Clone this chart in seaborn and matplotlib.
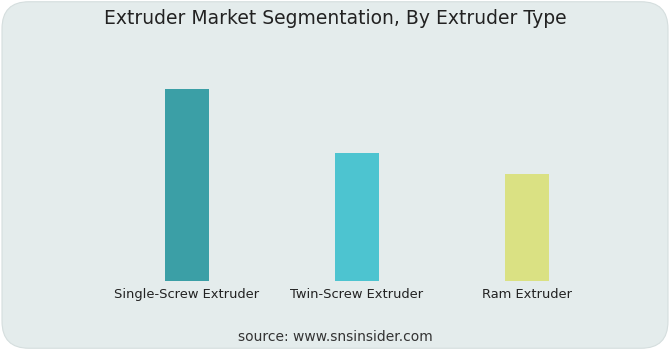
import matplotlib
matplotlib.use("Agg")
import matplotlib.pyplot as plt
from matplotlib.patches import FancyBboxPatch
import seaborn as sns
import pandas as pd

categories = ["Single-Screw Extruder", "Twin-Screw Extruder", "Ram Extruder"]
values = [45, 30, 25]
colors = ["#3b9fa6", "#4dc4d0", "#dae183"]

sns.set_theme(style="white")
plt.rcParams["font.family"] = ["DejaVu Sans"]

fig = plt.figure(figsize=(6.7, 3.5), dpi=100)
fig.patch.set_facecolor("white")
bg = FancyBboxPatch((0.003, 0.005), 0.994, 0.99, boxstyle="round,pad=0,rounding_size=0.04",
                    transform=fig.transFigure, facecolor="#e4ecec", edgecolor="#d5dede",
                    linewidth=0.8, mutation_aspect=670/350, zorder=-5)
fig.patches.append(bg)

ax = fig.add_axes([102/670, 1 - 281/350, 510/670, (281 - 60)/350])
ax.set_zorder(2)
ax.set_facecolor("none")
df = pd.DataFrame({"type": categories, "value": values})
sns.barplot(data=df, x="type", y="value", hue="type", palette=colors, width=0.26,
            legend=False, ax=ax, saturation=1, linewidth=0)
ax.set_xlim(-0.5, 2.5)
ax.set_ylim(0, 45 * 221 / 192)
ax.set_xlabel("")
ax.set_ylabel("")
ax.set_yticks([])
for s in ax.spines.values():
    s.set_visible(False)
ax.tick_params(axis="x", length=0, pad=5, labelsize=9.4, labelcolor="#222222")

fig.text(0.5, 1 - 19/350, "Extruder Market Segmentation, By Extruder Type",
         ha="center", va="center", fontsize=13.5, color="#222222", zorder=3)
fig.text(0.5, 1 - 337/350, "source: www.snsinsider.com", ha="center", va="center",
         fontsize=10, color="#333333", zorder=3)

fig.savefig("out.png", dpi=100)
